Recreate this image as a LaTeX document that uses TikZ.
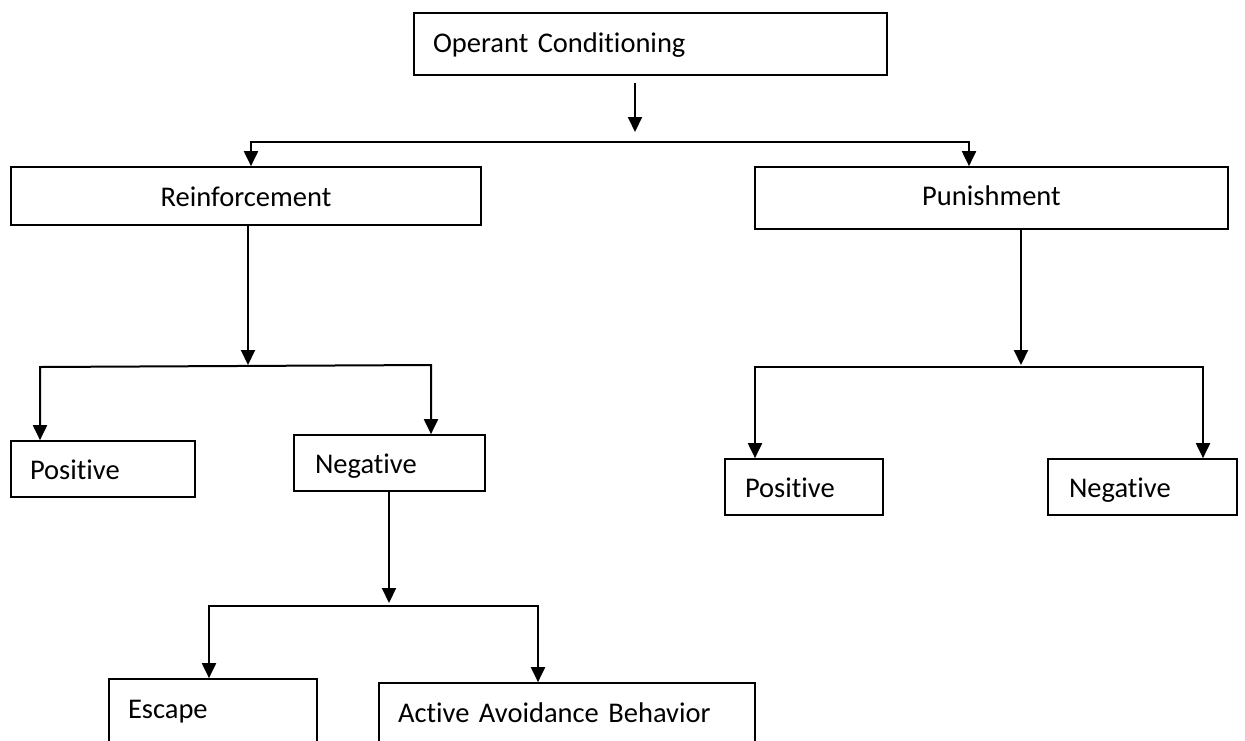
\documentclass[tikz,border=0pt]{standalone}
\usepackage{fontspec}
\setmainfont{Carlito}[Ligatures=NoCommon, WordSpace={0.85,0,0}]
\usetikzlibrary{arrows.meta,calc}
\begin{document}
\begin{tikzpicture}[x=1pt,y=-1pt]
\tikzset{
 box/.style={draw, line width=1.7pt, inner ysep=0pt, font=\fontsize{28.5}{34}\selectfont},
 lbox/.style={box, align=left},
 cbox/.style={box, align=center, inner xsep=0pt},
 conn/.style={line width=2pt},
 arr/.style={conn, -{Triangle[length=15pt,width=14pt]}},
 darr/.style={conn, {Triangle[length=15pt,width=14pt]}-{Triangle[length=15pt,width=14pt]}}
}
\clip (0,0) rectangle (1245,740);
\fill[white] (0,0) rectangle (1245,740);

\node[lbox, inner xsep=19pt, text width=435pt, text height=39pt, text depth=23pt] (op) at (650.5,44) {Operant Conditioning};
\node[cbox, text width=470pt, text height=39pt, text depth=19pt] (reinf) at (246,196) {Reinforcement};
\node[cbox, text width=473pt, text height=38pt, text depth=24pt] (pun) at (991.5,198) {Punishment};
\node[lbox, inner xsep=19pt, text width=146pt, text height=38pt, text depth=18pt] (posL) at (103,469) {Positive};
\node[lbox, inner xsep=21pt, text width=149pt, text height=38pt, text depth=18pt] (negL) at (389.5,463) {Negative};
\node[lbox, inner xsep=20pt, text width=118pt, text height=38pt, text depth=18pt] (posR) at (804,487) {Positive};
\node[lbox, inner xsep=21pt, text width=147pt, text height=38pt, text depth=18pt] (negR) at (1142.5,487) {Negative};
\node[lbox, inner xsep=19pt, text width=170pt, text height=39pt, text depth=32pt] (esc) at (213,714.5) {Escape};
\node[lbox, inner xsep=19pt, text width=338pt, text height=39pt, text depth=28pt] (act) at (567,716.5) {Active Avoidance Behavior};

% junction points
\coordinate (a1e) at (635,132);
\coordinate (h1L) at (251,142);
\coordinate (h1R) at (969,142);
\coordinate (h2m) at (248,365);
\coordinate (h2L) at (40,367);
\coordinate (h2R) at (431,365);
\coordinate (h3m) at (389,603);
\coordinate (h3L) at (209,606);
\coordinate (h3R) at (538,606);
\coordinate (h4m) at (1021,365);
\coordinate (h4L) at (755,367);
\coordinate (h4R) at (1203,367);

\draw[arr] ($(op.south -| a1e)+(0,7)$) -- (a1e);
\draw[darr] (h1L |- reinf.north) -- (h1L) -- (h1R) -- (h1R |- pun.north);

\draw[arr] (reinf.south -| h2m) -- (h2m);
\draw[darr] (h2L |- posL.north) -- (h2L) -- (h2R) -- (h2R |- negL.north);

\draw[arr] (negL.south -| h3m) -- (h3m);
\draw[darr] (h3L |- esc.north) -- (h3L) -- (h3R) -- (h3R |- act.north);

\draw[arr] (pun.south -| h4m) -- (h4m);
\draw[darr] (h4L |- posR.north) -- (h4L) -- (h4R) -- (h4R |- negR.north);
\end{tikzpicture}
\end{document}
